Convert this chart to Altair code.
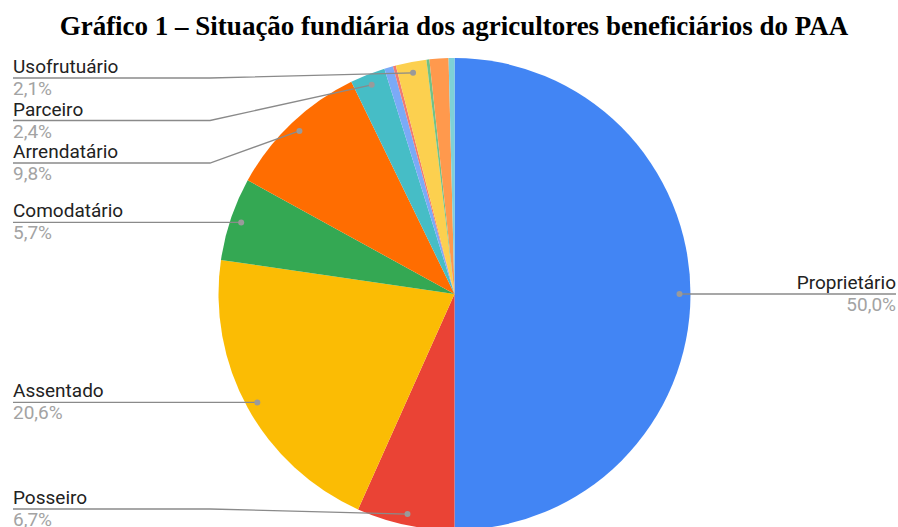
import math
import altair as alt
import pandas as pd

# ---- data -------------------------------------------------------------
categorias = ["Proprietário", "Posseiro", "Assentado", "Comodatário", "Arrendatário",
              "Parceiro", "Outro A", "Outro B", "Usofrutuário", "Outro C", "Outro D", "Outro E"]
valores = [50.0, 6.7, 20.6, 5.7, 9.8, 2.4, 0.6, 0.2, 2.1, 0.2, 1.3, 0.4]
rotulos = ["50,0%", "6,7%", "20,6%", "5,7%", "9,8%", "2,4%", "", "", "2,1%", "", "", ""]
mostrar = [True, True, True, True, True, True, False, False, True, False, False, False]
cores = ["#4285f4", "#ea4335", "#fbbc04", "#34a853", "#ff6d01", "#46bdc6",
         "#7baaf7", "#f07b72", "#fcd04f", "#71c287", "#ff994d", "#7ed1d7"]

# ---- layout (pixels) --------------------------------------------------
W, H_TOTAL, PAD_TOP = 898, 527, 40
H = H_TOTAL - PAD_TOP
CX, CY, R = 454.5, 294 - PAD_TOP, 236
R_DOT = 225
LEFT_X, RIGHT_X = 13, 896
ELBOW_L, ELBOW_R = 210, 700
GAP, Y_MIN, Y_MAX = 42.5, 78 - PAD_TOP, 509 - PAD_TOP

df = pd.DataFrame({"cat": categorias, "val": valores, "pct": rotulos,
                   "show": mostrar, "idx": range(len(categorias))})

# label anchors derived from slice mid-angles
total = sum(valores)
cum = 0.0
rows = []
for c, v, p, s in zip(categorias, valores, rotulos, mostrar):
    mid = (cum + v / 2) / total * 2 * math.pi
    cum += v
    if not s:
        continue
    dx = CX + R_DOT * math.sin(mid)
    dy = CY - R_DOT * math.cos(mid)
    rows.append({"cat": c, "pct": p, "dx": dx, "dy": dy,
                 "side": "R" if math.sin(mid) > 0 else "L"})
lab = pd.DataFrame(rows)

# resolve vertical label positions on each side
lab["ly"] = lab["dy"]
for side in ["L", "R"]:
    sub = lab[lab.side == side].sort_values("dy")
    yv = list(sub["dy"])
    for i in range(len(yv)):
        lo = Y_MIN if i == 0 else yv[i - 1] + GAP
        yv[i] = max(yv[i], lo)
    for i in range(len(yv) - 1, -1, -1):
        hi = Y_MAX if i == len(yv) - 1 else yv[i + 1] - GAP
        yv[i] = min(yv[i], hi)
    lab.loc[sub.index, "ly"] = yv
lab["lx"] = [LEFT_X if s == "L" else RIGHT_X for s in lab["side"]]

lines = []
for rec in lab.to_dict("records"):
    ex = ELBOW_L if rec["side"] == "L" else ELBOW_R
    pts = [(rec["lx"], rec["ly"]), (ex, rec["ly"]), (rec["dx"], rec["dy"])]
    for k, (x, y) in enumerate(pts):
        lines.append({"cat": rec["cat"], "k": k, "x": x, "y": y})
lines = pd.DataFrame(lines)

xs = alt.Scale(domain=[0, W], nice=False, zero=False)
ys = alt.Scale(domain=[0, H], nice=False, zero=False, reverse=True)

pie = alt.Chart(df).mark_arc(radius=R).encode(
    theta=alt.Theta("val:Q", stack=True),
    color=alt.Color("cat:N", scale=alt.Scale(domain=categorias, range=cores), legend=None),
    order=alt.Order("idx:Q"),
    x=alt.value(CX), y=alt.value(CY),
)

leader = alt.Chart(lines).mark_line(color="#8a8a8a", strokeWidth=1.3).encode(
    x=alt.X("x:Q", scale=xs, axis=None),
    y=alt.Y("y:Q", scale=ys, axis=None),
    detail="cat:N", order="k:Q",
)

dots = alt.Chart(lab).mark_circle(color="#9a9a9a", size=36, opacity=1).encode(
    x=alt.X("dx:Q", scale=xs, axis=None), y=alt.Y("dy:Q", scale=ys, axis=None))

FONT = "Roboto"
def texts(side, align):
    base = alt.Chart(lab).transform_filter(alt.datum.side == side)
    name = base.mark_text(align=align, baseline="alphabetic", dy=-5, font=FONT,
                          fontSize=19, color="#222222").encode(
        x=alt.X("lx:Q", scale=xs, axis=None), y=alt.Y("ly:Q", scale=ys, axis=None),
        text="cat:N")
    val = base.mark_text(align=align, baseline="alphabetic", dy=17, font=FONT,
                         fontSize=19, color="#a3a3a3").encode(
        x=alt.X("lx:Q", scale=xs, axis=None), y=alt.Y("ly:Q", scale=ys, axis=None),
        text="pct:N")
    return name + val

chart = alt.layer(pie, leader, dots, texts("L", "left"), texts("R", "right")).properties(
    width=W, height=H,
    title=alt.TitleParams("Gráfico 1 – Situação fundiária dos agricultores beneficiários do PAA",
                          font="Liberation Serif", fontSize=27, fontWeight="bold",
                          color="#000000", anchor="middle", offset=-1, dx=5),
    autosize=alt.AutoSizeParams(type="none"),
    padding={"left": 0, "right": 0, "top": PAD_TOP, "bottom": 0},
).configure_view(stroke=None)

chart.save("out.html", embed_options={"renderer": "svg", "actions": False})
